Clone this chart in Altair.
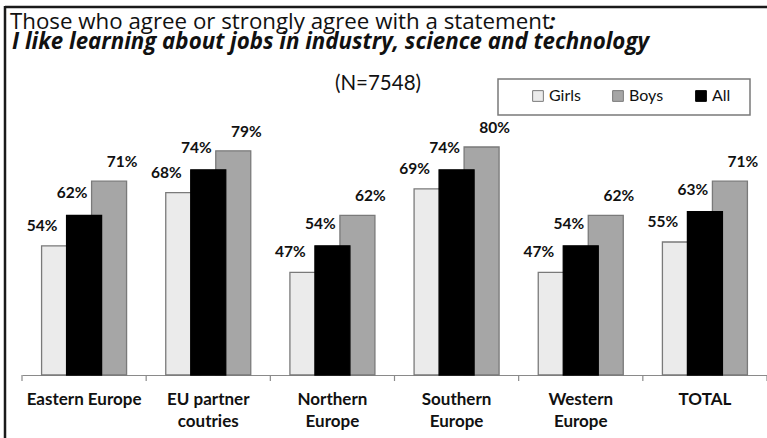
import altair as alt
import pandas as pd

regions = ["Eastern Europe", "EU partner\ncoutries", "Northern\nEurope",
           "Southern\nEurope", "Western\nEurope", "TOTAL"]
series = ["Girls", "Boys", "All"]
girls = [54, 68, 47, 69, 47, 55]
boys = [71, 79, 62, 80, 62, 71]
all_ = [62, 74, 54, 74, 54, 63]

title1 = "Those who agree or strongly agree with a statement"
title2 = "I like learning about jobs in industry, science and technology"
title3 = "(N=7548)"

rows = []
for s, vals in zip(series, [girls, boys, all_]):
    for r, v in zip(regions, vals):
        rows.append({"region": r, "series": s, "value": v, "label": f"{v}%"})
df = pd.DataFrame(rows)

FONT = "Lato"
W, H = 745, 304

xscale = alt.Scale(paddingInner=0, paddingOuter=0)
xaxis = alt.Axis(title=None, labelAngle=0, labelFont=FONT, labelFontWeight="bold",
                 labelFontSize=17, labelColor="#111111",
                 labelExpr="split(datum.label, '\\n')", ticks=False,
                 domainColor="#8a8a8a", domainWidth=1.2, labelPadding=16,
                 labelLineHeight=22, grid=False, labelLimit=0)
xenc = alt.X("region:N", sort=regions, scale=xscale, axis=xaxis)
xoff = alt.XOffset("series:N", sort=["Girls", "All", "Boys"],
                   scale=alt.Scale(paddingInner=0, paddingOuter=0.983))
yenc = alt.Y("value:Q", scale=alt.Scale(domain=[20, 100], zero=False, nice=False, clamp=True),
             axis=None)

base = alt.Chart(df)

bars = base.mark_bar(width=35, strokeWidth=1.3).encode(
    x=xenc, xOffset=xoff, y=yenc,
    color=alt.Color("series:N", scale=alt.Scale(domain=series,
                                               range=["#ebebeb", "#a6a6a6", "#000000"]),
                    legend=alt.Legend(title=None, orient="none", legendX=508, legendY=17,
                                      direction="horizontal", symbolType="square",
                                      symbolSize=115, symbolStrokeColor="#555555",
                                      symbolStrokeWidth=1, labelFont=FONT, labelFontSize=16,
                                      labelColor="#111111", columnPadding=29, labelOffset=3,
                                      padding=0)),
    stroke=alt.Stroke("series:N", scale=alt.Scale(domain=series,
                                                 range=["#7a7a7a", "#7a7a7a", "#000000"]),
                      legend=None),
)

def labels(s, dx, dy):
    return base.transform_filter(alt.datum.series == s).mark_text(
        font=FONT, fontWeight="bold", fontSize=15.5, color="#111111",
        dx=dx, dy=dy, baseline="alphabetic", align="center").encode(
        x=alt.X("region:N", sort=regions, axis=None), xOffset=xoff, y=yenc, text="label:N")

lab_g = labels("Girls", -17, -15)
lab_a = labels("All", -12, -17)
lab_b = labels("Boys", 13, -14)

ticks = base.transform_filter(alt.datum.series == "All").mark_rule(
    color="#8a8a8a", strokeWidth=1.2).encode(
    x=alt.X("region:N", sort=regions, bandPosition=0, axis=None),
    y=alt.value(H), y2=alt.value(H + 6))
tick_end = base.transform_filter(
    (alt.datum.series == "All") & (alt.datum.region == "TOTAL")).mark_rule(
    color="#8a8a8a", strokeWidth=1.2).encode(
    x=alt.X("region:N", sort=regions, bandPosition=1, axis=None),
    y=alt.value(H), y2=alt.value(H + 6))

one = alt.Data(values=[{"k": 1}])

legend_box = alt.Chart(one).mark_rect(fill="white", stroke="#7a7a7a", strokeWidth=1.5).encode(
    x=alt.value(476), x2=alt.value(728), y=alt.value(8), y2=alt.value(44))

border_top = alt.Chart(one).mark_rule(color="#1a1a1a", strokeWidth=2.5).encode(
    x=alt.value(-17), x2=alt.value(760), y=alt.value(-64))
border_left = alt.Chart(one).mark_rule(color="#1a1a1a", strokeWidth=2.5).encode(
    x=alt.value(-17), y=alt.value(-65), y2=alt.value(380))

t1 = alt.Chart(one).mark_text(font="Open Sans", fontSize=22.3, color="#111111", align="left",
                              baseline="alphabetic").encode(
    x=alt.value(-12), y=alt.value(-42), text=alt.value(title1))
t1c = alt.Chart(one).mark_text(font="Open Sans", fontSize=22, fontWeight="bold",
                               fontStyle="italic", color="#111111", align="left",
                               baseline="alphabetic").encode(
    x=alt.value(527), y=alt.value(-42), text=alt.value(":"))
t2 = alt.Chart(one).mark_text(font="Open Sans", fontSize=22.3, fontWeight="bold",
                              fontStyle="italic", color="#111111", align="left",
                              baseline="alphabetic").encode(
    x=alt.value(-10), y=alt.value(-22), text=alt.value(title2))
t3 = alt.Chart(one).mark_text(font=FONT, fontSize=20.5, color="#111111", align="center",
                              baseline="alphabetic").encode(
    x=alt.value(356), y=alt.value(19), text=alt.value(title3))

chart = alt.layer(
    border_top, border_left, t1, t1c, t2, t3, legend_box, ticks, tick_end,
    bars, lab_g, lab_a, lab_b
).resolve_axis(x="independent").properties(
    width=W, height=H,
    autosize=alt.AutoSizeParams(type="none"),
    padding={"left": 22, "top": 71, "right": 0, "bottom": 63},
    background="white",
).configure_view(stroke=None)

chart.save("out.html", embed_options={"renderer": "svg", "actions": False})
